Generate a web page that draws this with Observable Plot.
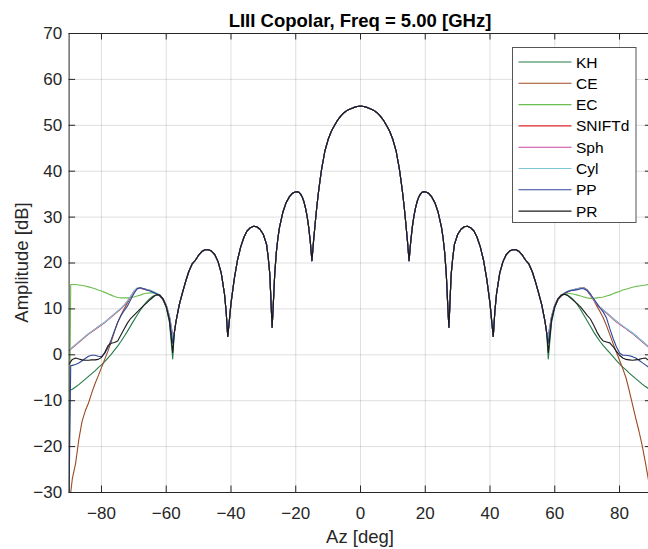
<!DOCTYPE html>
<html><head><meta charset="utf-8">
<script src="https://cdn.jsdelivr.net/npm/d3@7"></script>
<script src="https://cdn.jsdelivr.net/npm/@observablehq/plot@0.6"></script>
<style>
html,body{margin:0;padding:0;background:#fff;overflow:hidden;}
#wrap{width:648px;height:549px;overflow:hidden;position:relative;}
</style></head><body><div id="wrap"></div>
<script>
const seriesNames = ["KH","CE","EC","SNIFTd","Sph","Cyl","PP","PR"];
const seriesColors = ["#237a47","#9b4a23","#6cbd4f","#d9262b","#c4479e","#7dc6d6","#2e4698","#1a1a1a"];
const xTicks = [-80,-60,-40,-20,0,20,40,60,80];
const yTicks = [-30,-20,-10,0,10,20,30,40,50,60,70];
const titleText = "LIII Copolar, Freq = 5.00 [GHz]";
const xLabel = "Az [deg]";
const yLabel = "Amplitude [dB]";

// main beam & near sidelobes (|Az| < 58), common to all series
const coreAz = [0,1,2,3,4,5,6,7,8,9,10,11,12,12.5,13,13.5,14,14.5,15,15.5,16,16.5,17,17.5,18,18.5,19,19.5,20,21,22,23,24,25,25.5,26,26.5,27,27.3,27.7,28,28.5,29,30,31,32,33,34,35,36,37,38,39,40,40.5,41,41.5,42,43,44,45,46,47,48,49,50,51,52,53,54,55,56,57,57.5];
const coreDb = [54.2,54.1,53.9,53.6,53.3,52.8,52.1,51.2,50.0,48.7,46.9,44.4,40.5,38.0,35.3,32.2,28.6,24.8,20.5,24.6,27.8,30.2,32.0,33.4,34.4,35.0,35.4,35.5,35.5,35.2,34.4,33.1,31.0,27.8,25.5,22.3,17.5,10.0,6.0,12.5,17.5,21.2,24.0,26.2,27.3,27.9,28.0,27.7,27.0,25.6,23.5,20.6,16.5,11.2,7.5,4.0,9.5,13.2,17.8,20.3,21.8,22.6,22.9,22.9,22.5,21.7,20.6,19.8,18.2,16.0,13.5,10.8,7.2,4.8];

// wide-angle tails, |Az| from 58 to 90
const tailAz = [58,59,60,61,62,63,64,65,66,67,68,69,70,71,72,73,74,75,76,77,78,79,80,81,82,83,84,85,86,87,88,89,89.5,90];
const khLeft  = [-0.9,7.0,10.3,12.0,12.9,13.1,12.8,12.3,11.6,10.7,9.7,8.6,7.5,6.3,5.1,4.0,2.9,1.9,1.0,0.1,-0.7,-1.5,-2.2,-2.8,-3.5,-4.1,-4.7,-5.3,-5.9,-6.5,-7.0,-7.5,-7.7,-7.9];
const khRight = [-0.9,7.0,10.3,12.0,12.9,13.2,13.0,12.5,11.8,10.9,9.8,8.6,7.4,6.2,5.0,3.9,2.9,2.0,1.2,0.4,-0.4,-1.2,-2.0,-2.7,-3.3,-4.0,-4.6,-5.2,-5.8,-6.4,-6.9,-7.4,-7.7,-7.9];
const ceLeft  = [3.0,8.0,10.6,12.0,12.8,13.3,13.7,14.0,14.2,14.4,14.6,14.5,13.8,12.6,11.3,10.0,8.6,7.0,5.0,2.8,0.8,-1.0,-2.8,-4.6,-6.3,-8.3,-10.5,-12.2,-14.5,-18.5,-23.7,-27,-30,-36];
const ceRight = [3.0,8.0,10.6,12.0,12.8,13.3,13.7,14.0,14.2,14.4,14.6,14.6,14.2,13.3,12.0,10.6,9.4,8.0,6.3,4.4,2.5,0.6,-1.2,-3.0,-5.0,-7.8,-10.8,-13.8,-16.6,-19.8,-23.5,-27.5,-30,-33];
const ecLeft  = [3.0,8.0,10.8,12.3,13.1,13.4,13.5,13.5,13.4,13.3,13.0,12.8,12.6,12.5,12.4,12.4,12.4,12.5,12.7,13.0,13.3,13.6,13.9,14.1,14.4,14.6,14.8,15.0,15.1,15.2,15.3,15.3,15.3,-30];
const ecRight = [3.0,8.0,10.8,12.3,13.1,13.4,13.4,13.3,13.2,13.0,12.8,12.6,12.4,12.3,12.3,12.4,12.5,12.6,12.8,13.0,13.3,13.6,13.8,14.1,14.3,14.5,14.7,14.9,15.0,15.1,15.2,15.3,15.3,-30];
const sniftdLeft  = [4.0,8.3,10.8,12.2,12.8,13.3,13.7,14.0,14.1,14.3,14.5,14.4,13.7,12.6,11.6,10.7,10.0,9.4,8.8,8.2,7.6,7.0,6.5,6.0,5.5,5.0,4.5,3.9,3.3,2.7,2.1,1.5,1.2,0.9];
const sniftdRight = [4.0,8.3,10.8,12.2,12.9,13.4,13.8,14.0,14.1,14.3,14.5,14.5,14.0,13.0,12.0,11.0,10.3,9.7,9.1,8.5,7.8,7.2,6.7,6.2,5.7,5.2,4.7,4.1,3.5,2.9,2.3,1.7,1.4,1.1];
const sphLeft  = [4.3,8.4,10.8,12.2,12.8,13.3,13.7,14.0,14.2,14.4,14.5,14.4,13.7,12.7,11.7,10.8,10.1,9.5,8.9,8.3,7.7,7.1,6.6,6.1,5.6,5.1,4.6,4.0,3.4,2.8,2.2,1.6,1.3,1.0];
const sphRight = [4.3,8.4,10.8,12.2,12.9,13.4,13.8,14.0,14.2,14.4,14.5,14.5,14.0,13.0,12.0,11.0,10.3,9.7,9.1,8.5,7.9,7.3,6.7,6.2,5.7,5.2,4.7,4.1,3.5,2.9,2.3,1.7,1.4,1.1];
const cylLeft  = [3.8,8.2,10.8,12.2,12.9,13.4,13.8,14.1,14.2,14.4,14.6,14.5,13.8,12.7,11.7,10.8,10.1,9.5,8.9,8.3,7.7,7.1,6.6,6.1,5.6,5.1,4.6,4.0,3.4,2.8,2.2,1.6,1.3,1.0];
const cylRight = [3.8,8.2,10.8,12.2,12.9,13.5,13.9,14.1,14.2,14.4,14.6,14.5,14.1,13.1,12.1,11.1,10.4,9.8,9.2,8.6,7.9,7.3,6.8,6.3,5.8,5.3,4.8,4.2,3.6,3.0,2.4,1.8,1.5,1.2];
const ppLeft  = [2.5,7.8,10.6,12.1,12.9,13.3,13.6,13.9,14.1,14.4,14.6,14.4,13.3,12.0,10.6,9.6,8.5,7.1,5.2,3.3,1.6,0.3,-0.4,-0.3,-0.1,-0.1,-0.3,-0.8,-1.3,-1.8,-2.1,-2.3,-2.4,-30];
const ppRight = [2.5,7.8,10.6,12.1,12.9,13.4,13.8,14.0,14.1,14.2,14.4,14.4,14.0,13.2,12.2,11.2,10.2,9.3,8.0,5.7,3.6,1.8,0.4,-0.1,-0.1,-0.2,-0.4,-0.7,-1.2,-1.7,-2.2,-2.7,-2.9,-30];
const prLeft  = [0.5,7.5,10.5,12.2,13.0,13.1,12.6,12.0,11.3,10.7,10.0,9.3,8.6,7.9,6.9,5.6,4.3,3.0,2.7,2.5,2.0,0.5,-0.6,-1.0,-1.1,-1.1,-1.2,-1.2,-1.1,-0.9,-0.7,-1.0,-1.5,-2.0];
const prRight = [0.5,7.5,10.5,12.2,13.0,13.2,12.9,12.3,11.7,11.1,10.4,9.5,8.6,7.8,6.5,5.0,3.8,3.0,2.8,2.6,1.8,0.8,-0.1,-0.7,-1.0,-1.1,-1.2,-1.1,-1.0,-0.8,-0.7,-1.2,-1.5,-1.7];

const tails = {
  KH:[khLeft,khRight], CE:[ceLeft,ceRight], EC:[ecLeft,ecRight], SNIFTd:[sniftdLeft,sniftdRight],
  Sph:[sphLeft,sphRight], Cyl:[cylLeft,cylRight], PP:[ppLeft,ppRight], PR:[prLeft,prRight]
};

const rows = [];
for (const name of seriesNames) {
  const [L, R] = tails[name];
  for (let i = tailAz.length - 1; i >= 0; i--) rows.push({series: name, az: -tailAz[i], db: L[i]});
  for (let i = coreAz.length - 1; i >= 1; i--) rows.push({series: name, az: -coreAz[i], db: coreDb[i]});
  for (let i = 0; i < coreAz.length; i++) rows.push({series: name, az: coreAz[i], db: coreDb[i]});
  for (let i = 0; i < tailAz.length; i++) rows.push({series: name, az: tailAz[i], db: R[i]});
}

const W = 652, H = 549, mL = 68.6, mR = 0.6, mT = 33, mB = 57;
const plotW = W - mL - mR, plotH = H - mT - mB;
const tick = 6.5;
const axisColor = "#262626";
const font = "'Liberation Sans', Arial, Helvetica, sans-serif";

const chart = Plot.plot({
  width: W, height: H,
  marginLeft: mL, marginRight: mR, marginTop: mT, marginBottom: mB,
  style: {fontFamily: font, fontSize: "17px", color: axisColor, background: "#fff", maxWidth: "none"},
  x: {domain: [-90, 90]},
  y: {domain: [-30, 70]},
  color: {domain: seriesNames, range: seriesColors},
  marks: [
    Plot.gridX(xTicks, {stroke: axisColor, strokeOpacity: 0.15, strokeWidth: 1}),
    Plot.gridY(yTicks, {stroke: axisColor, strokeOpacity: 0.15, strokeWidth: 1}),
    Plot.line(rows, {x: "az", y: "db", z: "series", stroke: "series", strokeWidth: 1.1, clip: true}),
    Plot.frame({stroke: axisColor, strokeWidth: 1}),
    Plot.tickX(xTicks, {x: d => d, stroke: axisColor, insetTop: plotH - tick}),
    Plot.tickX(xTicks, {x: d => d, stroke: axisColor, insetBottom: plotH - tick}),
    Plot.tickY(yTicks, {y: d => d, stroke: axisColor, insetRight: plotW - tick}),
    Plot.tickY(yTicks, {y: d => d, stroke: axisColor, insetLeft: plotW - tick}),
    Plot.axisX(xTicks, {tickSize: 0, tickPadding: 14, label: null, fill: axisColor}),
    Plot.axisY(yTicks, {tickSize: 0, tickPadding: 7, label: null, fill: axisColor})
  ]
});
chart.style.maxWidth = "none";
document.getElementById("wrap").appendChild(chart);

const svg = d3.select(chart);
svg.append("text").attr("x", 360).attr("y", 26.5).attr("text-anchor", "middle")
  .attr("font-family", font).attr("font-size", 18.5).attr("font-weight", "bold").attr("fill", "#000")
  .text(titleText);
svg.append("text").attr("x", 360).attr("y", 543).attr("text-anchor", "middle")
  .attr("font-family", font).attr("font-size", 18.5).attr("fill", axisColor).text(xLabel);
svg.append("text").attr("transform", "translate(28,262.5) rotate(-90)").attr("text-anchor", "middle")
  .attr("font-family", font).attr("font-size", 18.5).attr("fill", axisColor).text(yLabel);

const lg = svg.append("g");
lg.append("rect").attr("x", 512.5).attr("y", 47.5).attr("width", 123.5).attr("height", 175)
  .attr("fill", "#fff").attr("stroke", "#555").attr("stroke-width", 1);
seriesNames.forEach((n, i) => {
  const y = 62 + i * 21.3;
  lg.append("line").attr("x1", 518.5).attr("x2", 571.5).attr("y1", y).attr("y2", y)
    .attr("stroke", seriesColors[i]).attr("stroke-width", 1.1);
  lg.append("text").attr("x", 576).attr("y", y).attr("dy", "0.36em").attr("text-anchor", "start")
    .attr("font-family", font).attr("font-size", 15.5).attr("fill", "#000").text(n);
});
</script></body></html>
